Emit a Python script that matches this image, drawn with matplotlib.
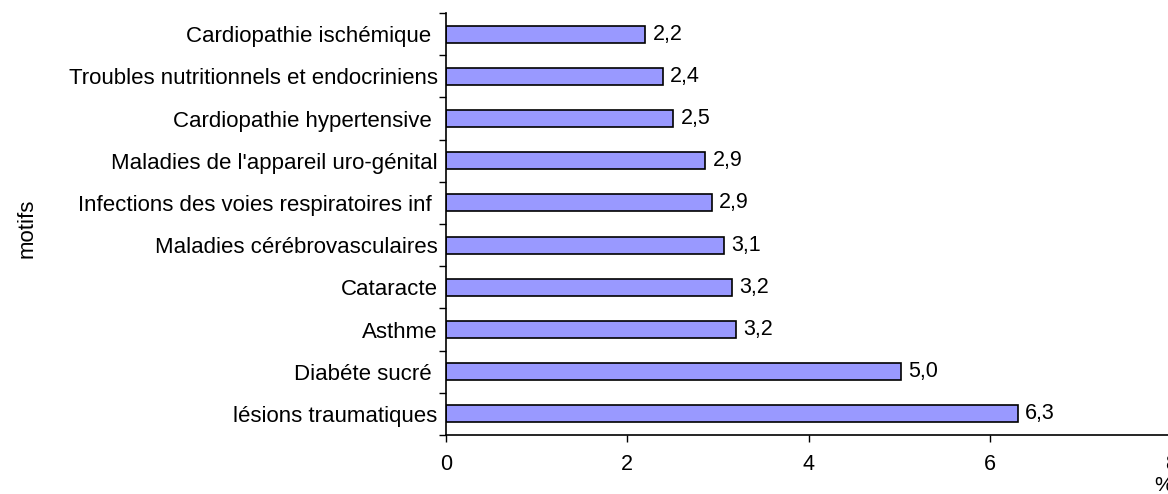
import numpy as np
import matplotlib.pyplot as plt

plt.rcParams['font.family'] = ['Liberation Sans', 'DejaVu Sans']

# données (de bas en haut)
motifs = ["lésions traumatiques", "Diabéte sucré ", "Asthme", "Cataracte",
          "Maladies cérébrovasculaires", "Infections des voies respiratoires inf ",
          "Maladies de l'appareil uro-génital", "Cardiopathie hypertensive ",
          "Troubles nutritionnels et endocriniens", "Cardiopathie ischémique "]
valeurs = [6.31, 5.02, 3.2, 3.16, 3.07, 2.93, 2.86, 2.51, 2.39, 2.2]
xticks = [0, 2, 4, 6, 8]

fig = plt.figure(figsize=(11.68, 4.94), dpi=100)
ax = fig.add_axes([446 / 1168, 1 - 435 / 494, 725 / 1168, 422 / 494])

y = np.arange(len(motifs))
ax.barh(y, valeurs, height=0.4, color="#9999FF", edgecolor="black", linewidth=1.2)

for yi, v in zip(y, valeurs):
    ax.text(v + 0.08, yi, f"{v:.1f}".replace(".", ","), va="center", ha="left",
            fontsize=15.5)

ax.set_xlim(0, 8)
ax.set_ylim(-0.5, len(motifs) - 0.5)
ax.set_xticks(xticks)
ax.set_xticklabels([str(t) for t in xticks], fontsize=15.5)
ax.tick_params(axis="x", length=5, width=1, pad=9)

# graduations entre catégories, étiquettes au centre
ax.set_yticks(np.arange(-0.5, len(motifs), 1.0))
ax.set_yticklabels([])
ax.set_yticks(y, minor=True)
ax.set_yticklabels(motifs, minor=True, fontsize=16)
ax.tick_params(axis="y", which="major", length=5, width=1)
ax.tick_params(axis="y", which="minor", length=0, pad=6)

for s in ["top", "right"]:
    ax.spines[s].set_visible(False)
for s in ["left", "bottom"]:
    ax.spines[s].set_linewidth(1.2)

fig.text(27 / 1168, 1 - 228 / 494, "motifs", rotation=90, fontsize=16,
         ha="center", va="center")
fig.text(1164 / 1168, 1 - 485 / 494, "%", fontsize=15, ha="center", va="center")

fig.savefig("out.png", dpi=100)
